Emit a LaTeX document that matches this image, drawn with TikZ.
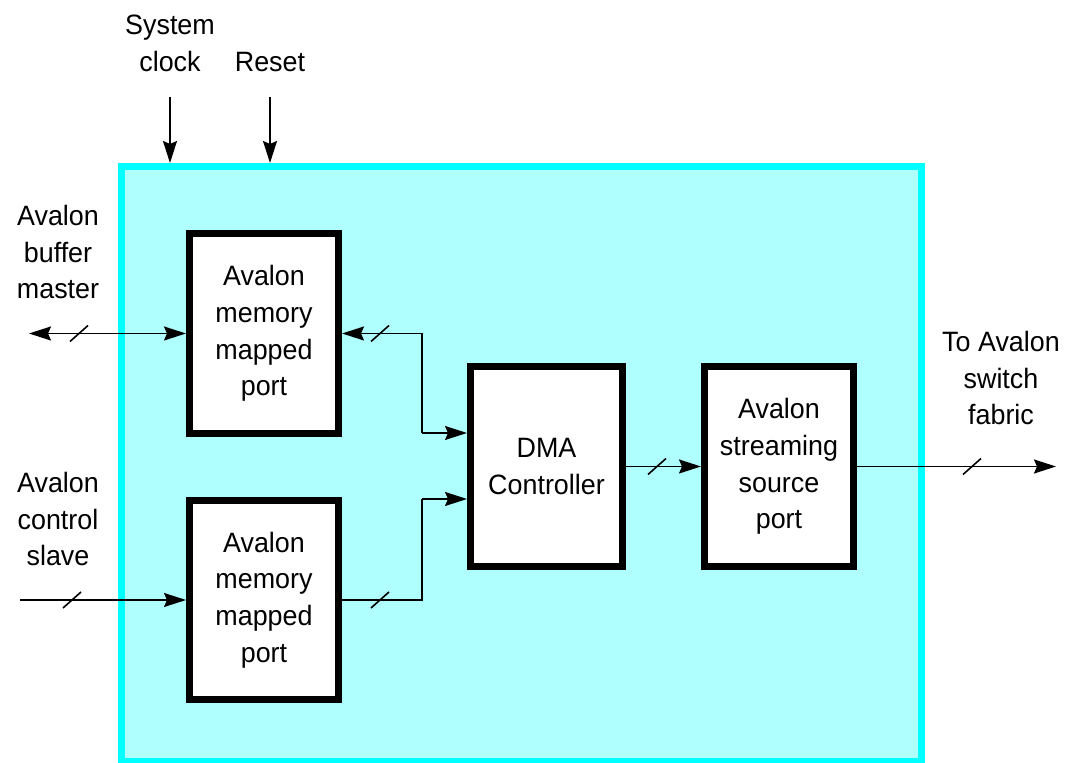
\documentclass[tikz,border=0pt]{standalone}
\usepackage{fontspec}
\setmainfont{Liberation Sans}[FakeStretch=0.96]
\usetikzlibrary{arrows.meta}
\definecolor{cyanborder}{RGB}{0,255,255}
\definecolor{cyanfill}{RGB}{176,255,255}
\begin{document}
\begin{tikzpicture}[x=0.5pt,y=-0.5pt,
  txt/.style={font=\fontsize{14}{18.4}\selectfont},
  lbl/.style={txt,align=center,inner sep=0pt},
  blk/.style={txt,draw=black,line width=3.5pt,fill=white,align=center,inner sep=0pt},
  tip/.tip={Stealth[length=11pt,width=7pt,inset=1.5pt]},
  conn/.style={line width=0.8pt,-tip},
  dconn/.style={line width=0.8pt,tip-tip},
  plain/.style={line width=0.8pt},
  bus/.pic={\draw[line width=0.8pt] (-9,8) -- (9,-8);}
]
\useasboundingbox (0,0) rectangle (1066,763);
% outer container
\node[draw=cyanborder,fill=cyanfill,line width=3.5pt,minimum width=400pt,minimum height=297.5pt,inner sep=0pt] (outer) at (521.5,464) {};
% blocks
\node[blk,minimum width=74.5pt,minimum height=100pt] (mm1) at (264,333.5) {Avalon\\memory\\mapped\\port};
\node[blk,minimum width=74.5pt,minimum height=99.5pt] (mm2) at (264,600) {Avalon\\memory\\mapped\\port};
\node[blk,minimum width=76pt,minimum height=100pt] (dma) at (546.5,466.5) {DMA\\Controller};
\node[blk,minimum width=74.5pt,minimum height=100pt] (src) at (779,466.5) {Avalon\\streaming\\source\\port};
% labels
\node[lbl] (clklbl) at (170,43) {System\\clock};
\node[lbl,anchor=base] (rstlbl) at (270,72) {Reset};
\node[lbl] (bmlbl) at (58,252) {Avalon\\buffer\\master};
\node[lbl] (cslbl) at (58,519) {Avalon\\control\\slave};
\node[lbl] (swlbl) at (1001,378) {To Avalon\\switch\\fabric};
% coordinates
\coordinate (clk) at (170,97);
\coordinate (rst) at (270,97);
\coordinate (bm) at (29,333.5);
\coordinate (cs) at (20,600);
\coordinate (j1) at (422,333.5);
\coordinate (j1b) at (422,433);
\coordinate (j2) at (422,600);
\coordinate (j2b) at (422,499);
\coordinate (out) at (1056,466.5);
% connectors
\draw[conn] (clk) -- (clk |- outer.north);
\draw[conn] (rst) -- (rst |- outer.north);
\draw[dconn] (bm) -- (mm1.west);
\draw[conn] (j1) -- (mm1.east);
\draw[plain] (j1) -- (j1b);
\draw[conn] (j1b) -- (j1b -| dma.west);
\draw[conn] (cs) -- (mm2.west);
\draw[plain] (mm2.east) -- (j2) -- (j2b);
\draw[conn] (j2b) -- (j2b -| dma.west);
\draw[conn] (dma.east) -- (src.west);
\draw[conn] (src.east) -- (out);
% bus slashes
\pic at (79,333.5) {bus};
\pic at (380,333.5) {bus};
\pic at (72,600) {bus};
\pic at (380,600) {bus};
\pic at (657,466.5) {bus};
\pic at (972,466.5) {bus};
\end{tikzpicture}
\end{document}
